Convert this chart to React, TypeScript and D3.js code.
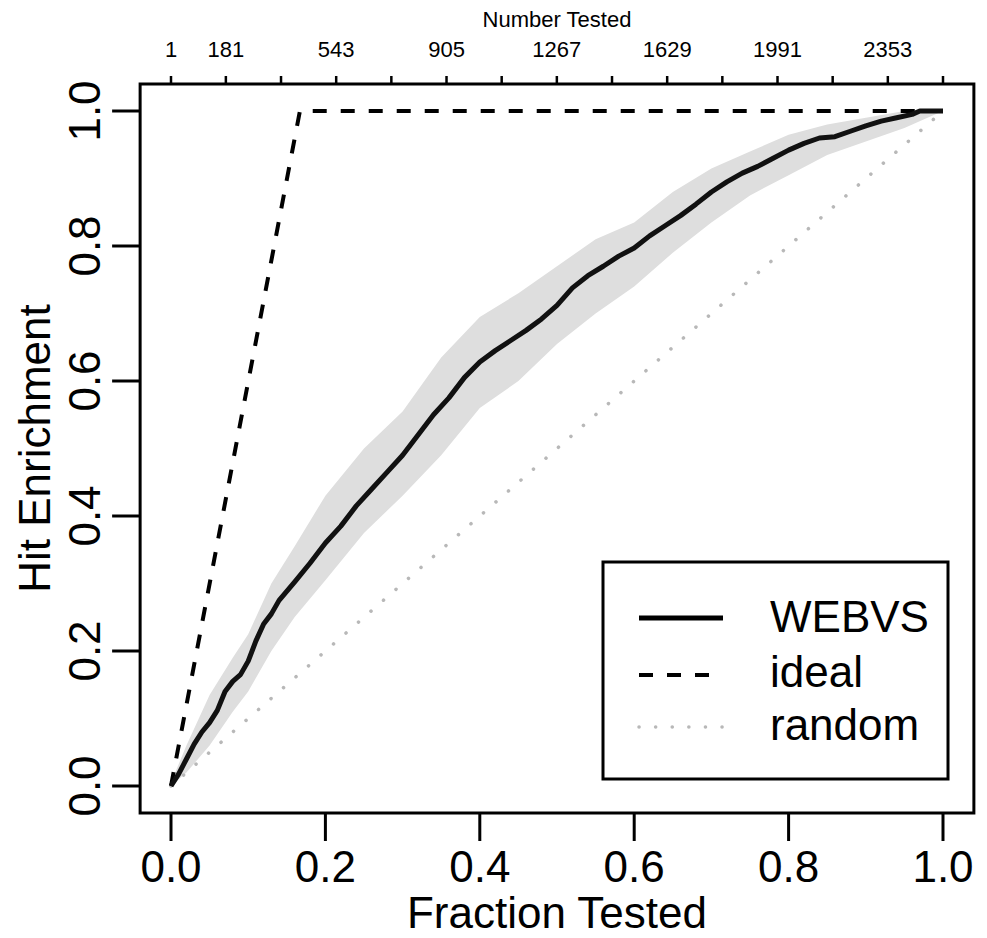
import { useEffect, useRef } from "react";
import * as d3 from "d3";

// WEBVS enrichment curve (fraction tested -> fraction of hits found)
const fracTested = [
  0, 0.01, 0.02, 0.03, 0.04, 0.05, 0.06, 0.07, 0.08, 0.09, 0.1, 0.11, 0.12, 0.13,
  0.14, 0.16, 0.18, 0.2, 0.22, 0.24, 0.26, 0.28, 0.3, 0.32, 0.34, 0.36, 0.38,
  0.4, 0.42, 0.44, 0.46, 0.48, 0.5, 0.52, 0.54, 0.56, 0.58, 0.6, 0.62, 0.64,
  0.66, 0.68, 0.7, 0.72, 0.74, 0.76, 0.78, 0.8, 0.82, 0.84, 0.86, 0.88, 0.9,
  0.92, 0.94, 0.96, 0.97, 0.98, 1.0,
];
const webvsHits = [
  0, 0.018, 0.04, 0.062, 0.08, 0.094, 0.112, 0.14, 0.155, 0.165, 0.185, 0.215,
  0.24, 0.255, 0.275, 0.302, 0.33, 0.36, 0.385, 0.415, 0.44, 0.465, 0.49, 0.52,
  0.55, 0.575, 0.605, 0.628, 0.645, 0.66, 0.675, 0.692, 0.712, 0.738, 0.756,
  0.77, 0.785, 0.797, 0.815, 0.83, 0.845, 0.862, 0.88, 0.895, 0.908, 0.918,
  0.93, 0.942, 0.952, 0.96, 0.962, 0.97, 0.978, 0.985, 0.99, 0.995, 1.0, 1.0,
  1.0,
];

// confidence band
const bandX = [
  0, 0.02, 0.05, 0.08, 0.1, 0.13, 0.16, 0.2, 0.25, 0.3, 0.35, 0.4, 0.45, 0.5,
  0.55, 0.6, 0.65, 0.7, 0.75, 0.8, 0.85, 0.9, 0.95, 0.98, 1.0,
];
const bandHigh = [
  0.005, 0.06, 0.135, 0.19, 0.225, 0.3, 0.355, 0.43, 0.5, 0.555, 0.635, 0.695,
  0.73, 0.77, 0.81, 0.835, 0.88, 0.915, 0.94, 0.965, 0.98, 0.99, 1.0, 1.0, 1.0,
];
const bandLow = [
  0, 0.02, 0.06, 0.11, 0.14, 0.2, 0.25, 0.305, 0.375, 0.43, 0.49, 0.56, 0.6,
  0.655, 0.7, 0.74, 0.79, 0.835, 0.875, 0.905, 0.935, 0.955, 0.975, 0.99, 1.0,
];

// ideal and random reference lines
const idealX = [0, 0.167, 1.0];
const idealY = [0, 1.0, 1.0];
const randomX = [0, 1.0];
const randomY = [0, 1.0];

const fracTicks = [0, 0.2, 0.4, 0.6, 0.8, 1.0];
const totalTested = 2534;
const numberTicks = [1, 181, 362, 543, 724, 905, 1086, 1267, 1448, 1629, 1810, 1991, 2172, 2353, 2534];
const numberLabels = [1, 181, 543, 905, 1267, 1629, 1991, 2353];

const legendItems = [
  { name: "WEBVS", color: "#000", width: 5, dash: null },
  { name: "ideal", color: "#000", width: 4, dash: "14,14" },
  { name: "random", color: "#b8b8b8", width: 3.5, dash: "0.1,16.5" },
];

const FONT = "Liberation Sans, Arial, sans-serif";

export default function App() {
  const svgRef = useRef<SVGSVGElement>(null);

  useEffect(() => {
    const width = 987;
    const height = 938;
    const svg = d3.select(svgRef.current).attr("width", width).attr("height", height);
    svg.selectAll("*").remove();

    const x = d3.scaleLinear().domain([0, 1]).range([171, 943]);
    const y = d3.scaleLinear().domain([0, 1]).range([786, 111]);
    const xTop = d3.scaleLinear().domain([1, totalTested]).range([171, 943]);

    // R style box: 4% beyond data range
    const [x0, x1] = [x(-0.04), x(1.04)];
    const [y0, y1] = [y(-0.04), y(1.04)];

    const band = d3
      .area<number>()
      .x((_, i) => x(bandX[i]))
      .y0((_, i) => y(bandLow[i]))
      .y1((_, i) => y(bandHigh[i]));
    svg.append("path").attr("d", band(bandX)).attr("fill", "#dedede");

    const line = d3
      .line<[number, number]>()
      .x((d) => x(d[0]))
      .y((d) => y(d[1]));

    svg
      .append("path")
      .attr("d", line(randomX.map((v, i) => [v, randomY[i]])))
      .attr("fill", "none")
      .attr("stroke", "#b8b8b8")
      .attr("stroke-width", 3.5)
      .attr("stroke-linecap", "round")
      .attr("stroke-dasharray", "0.1,16.5");

    svg
      .append("path")
      .attr("d", line(idealX.map((v, i) => [v, idealY[i]])))
      .attr("fill", "none")
      .attr("stroke", "#000")
      .attr("stroke-width", 4)
      .attr("stroke-dasharray", "14,14");

    svg
      .append("path")
      .attr("d", line(fracTested.map((v, i) => [v, webvsHits[i]])))
      .attr("fill", "none")
      .attr("stroke", "#111")
      .attr("stroke-width", 5)
      .attr("stroke-linejoin", "round");

    // frame
    svg
      .append("rect")
      .attr("x", x0)
      .attr("y", y1)
      .attr("width", x1 - x0)
      .attr("height", y0 - y1)
      .attr("fill", "none")
      .attr("stroke", "#000")
      .attr("stroke-width", 3);

    // bottom axis
    const bottom = svg.append("g");
    bottom
      .selectAll("line")
      .data(fracTicks)
      .join("line")
      .attr("x1", (d) => x(d))
      .attr("x2", (d) => x(d))
      .attr("y1", y0)
      .attr("y2", y0 + 28)
      .attr("stroke", "#000")
      .attr("stroke-width", 3);
    bottom
      .selectAll("text")
      .data(fracTicks)
      .join("text")
      .attr("x", (d) => x(d))
      .attr("y", 882)
      .attr("text-anchor", "middle")
      .attr("font-family", FONT)
      .attr("font-size", 44)
      .text((d) => d.toFixed(1));
    svg
      .append("text")
      .attr("x", x(0.5))
      .attr("y", 928)
      .attr("text-anchor", "middle")
      .attr("font-family", FONT)
      .attr("font-size", 44)
      .text("Fraction Tested");

    // left axis
    const left = svg.append("g");
    left
      .selectAll("line")
      .data(fracTicks)
      .join("line")
      .attr("x1", x0)
      .attr("x2", x0 - 28)
      .attr("y1", (d) => y(d))
      .attr("y2", (d) => y(d))
      .attr("stroke", "#000")
      .attr("stroke-width", 3);
    left
      .selectAll("text")
      .data(fracTicks)
      .join("text")
      .attr("transform", (d) => `translate(100,${y(d)}) rotate(-90)`)
      .attr("text-anchor", "middle")
      .attr("font-family", FONT)
      .attr("font-size", 44)
      .text((d) => d.toFixed(1));
    svg
      .append("text")
      .attr("transform", `translate(50,${(y0 + y1) / 2}) rotate(-90)`)
      .attr("text-anchor", "middle")
      .attr("font-family", FONT)
      .attr("font-size", 44)
      .text("Hit Enrichment");

    // top axis (number tested)
    const top = svg.append("g");
    top
      .selectAll("line")
      .data(numberTicks)
      .join("line")
      .attr("x1", (d) => xTop(d))
      .attr("x2", (d) => xTop(d))
      .attr("y1", y1)
      .attr("y2", y1 - 8)
      .attr("stroke", "#000")
      .attr("stroke-width", 2.5);
    top
      .selectAll("text")
      .data(numberLabels)
      .join("text")
      .attr("x", (d) => xTop(d))
      .attr("y", 57)
      .attr("text-anchor", "middle")
      .attr("font-family", FONT)
      .attr("font-size", 22)
      .text((d) => String(d));
    svg
      .append("text")
      .attr("x", x(0.5))
      .attr("y", 27)
      .attr("text-anchor", "middle")
      .attr("font-family", FONT)
      .attr("font-size", 22)
      .text("Number Tested");

    // legend
    const lg = svg.append("g");
    lg.append("rect")
      .attr("x", 603)
      .attr("y", 562)
      .attr("width", 345)
      .attr("height", 217)
      .attr("fill", "#fff")
      .attr("stroke", "#000")
      .attr("stroke-width", 3);
    const rows = [618, 675, 727];
    const baselines = [632, 687, 740];
    legendItems.forEach((item, i) => {
      const l = lg
        .append("line")
        .attr("x1", 639)
        .attr("x2", 723)
        .attr("y1", rows[i])
        .attr("y2", rows[i])
        .attr("stroke", item.color)
        .attr("stroke-width", item.width)
        .attr("stroke-linecap", item.name === "random" ? "round" : "butt");
      if (item.dash) l.attr("stroke-dasharray", item.dash);
      lg.append("text")
        .attr("x", 770)
        .attr("y", baselines[i])
        .attr("font-family", FONT)
        .attr("font-size", 44)
        .text(item.name);
    });
  }, []);

  return (
    <svg
      ref={svgRef}
      style={{ position: "absolute", left: 0, top: 0, background: "#fff" }}
    ></svg>
  );
}
